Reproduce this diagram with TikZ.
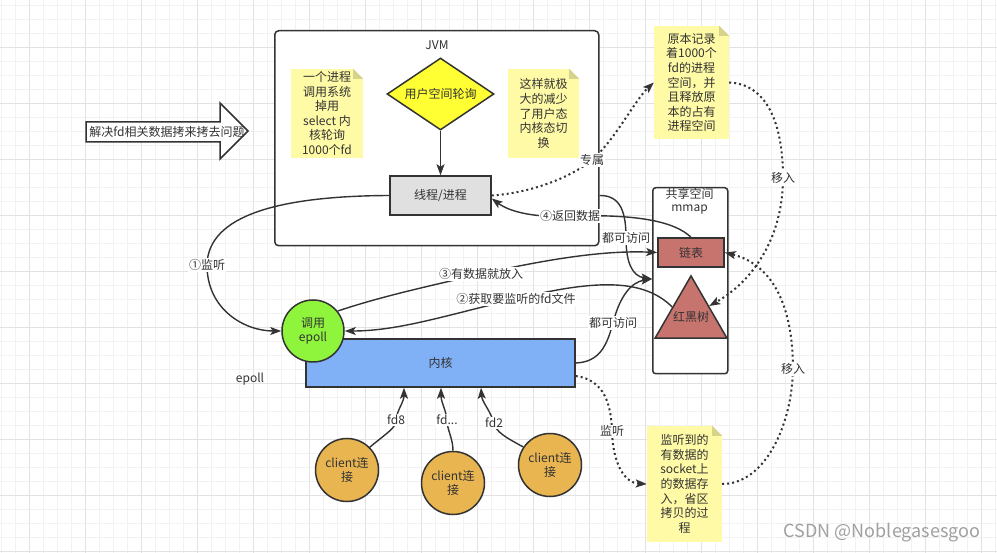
\documentclass[tikz,border=0pt]{standalone}
\usepackage{fontspec}
\setmainfont{Noto Sans CJK SC}
\usetikzlibrary{shapes.geometric,arrows.meta}
\definecolor{edge}{RGB}{51,51,51}
\definecolor{txt}{RGB}{51,51,51}
\definecolor{gridminor}{RGB}{242,242,242}
\definecolor{gridmajor}{RGB}{226,226,226}
\definecolor{notebg}{RGB}{255,250,165}
\definecolor{notefold}{RGB}{214,211,138}
\definecolor{dyellow}{RGB}{255,255,51}
\definecolor{thgray}{RGB}{224,224,224}
\definecolor{dred}{RGB}{200,116,110}
\definecolor{dgreen}{RGB}{143,245,60}
\definecolor{dblue}{RGB}{128,176,245}
\definecolor{dorange}{RGB}{233,181,80}
\definecolor{wm}{RGB}{160,160,160}
\begin{document}
\begin{tikzpicture}[x=1pt,y=-1pt,
  every node/.style={text=txt},
  font=\fontsize{12}{14.6}\selectfont,
  box/.style={draw=edge, line width=1.5pt},
  conn/.style={draw=edge, line width=1.4pt, -{Stealth[length=11pt,width=8pt,inset=2.5pt]}},
  dotconn/.style={draw=edge, line width=2pt, dash pattern=on 2pt off 3pt, -{Stealth[length=11pt,width=8pt,inset=2.5pt]}},
  lbl/.style={fill=white, inner sep=1pt},
  note/.style={fill=notebg, align=center, inner sep=0pt},
  client/.style={circle, draw=edge, line width=1.5pt, fill=dorange, minimum size=63pt, inner sep=0pt, align=center}]
\useasboundingbox (0,0) rectangle (997,553);
\fill[white] (0,0) rectangle (997,553);
% grid
\foreach \x in {1,15,...,997} \draw[gridminor, line width=0.8pt] (\x,0) -- (\x,553);
\foreach \y in {5,19,...,553} \draw[gridminor, line width=0.8pt] (0,\y) -- (997,\y);
\foreach \x in {29,85,...,997} \draw[gridmajor, line width=0.8pt] (\x,0) -- (\x,553);
\foreach \y in {47,103,...,553} \draw[gridmajor, line width=0.8pt] (0,\y) -- (997,\y);

% big arrow
\draw[box, fill=white] (86,122) -- (220,122) -- (220,103) -- (248,131) -- (220,159) -- (220,142) -- (86,142) -- cycle;
\node (solve) at (167,132) {解决fd相关数据拷来拷去问题};

% JVM
\node[box, rounded corners=4pt, fill=white, minimum width=324pt, minimum height=215pt, anchor=north west] (jvm) at (274,30) {};
\node (jvmlbl) at (437,45) {JVM};
\node[note, minimum width=72pt, minimum height=89pt] (n1) at (327,113.5) {一个进程\\调用系统\\掉用\\select 内\\核轮询\\1000个fd};
\node[note, minimum width=71pt, minimum height=89pt] (n2) at (543.5,113.5) {这样就极\\大的减少\\了用户态\\内核态切\\换};
\node[diamond, draw=edge, line width=1.5pt, fill=dyellow, inner sep=0pt, aspect=1.5, minimum width=107pt, minimum height=72pt] (poll) at (440.5,94) {用户空间轮询};
\node[box, fill=thgray, minimum width=101pt, minimum height=39pt] (thread) at (440.5,195.5) {线程/进程};
\draw[conn] (poll.south) -- (thread.north);

% notes right
\node[note, minimum width=75pt, minimum height=113pt] (n3) at (691.5,82.5) {原本记录\\着1000个\\fd的进程\\空间，并\\且释放原\\本的占有\\进程空间};
\node[note, minimum width=75pt, minimum height=116pt] (n4) at (684.5,484) {监听到的\\有数据的\\socket上\\的数据存\\入，省区\\拷贝的过\\程};
\foreach \n in {n1,n2,n3,n4} {
  \fill[white] ([xshift=-10pt]\n.north east) -- (\n.north east) -- ([yshift=-10pt]\n.north east) -- cycle;
  \fill[notefold] ([xshift=-10pt]\n.north east) -- ([xshift=-10pt,yshift=-10pt]\n.north east) -- ([yshift=-10pt]\n.north east) -- cycle;
}

% shared space
\node[box, rounded corners=3pt, fill=white, minimum width=75pt, minimum height=186pt, anchor=north west] (shared) at (652,187) {};
\node (sharedlbl) at (689.5,194) {共享空间};
\node (mmap) at (689.5,210) {mmap};
\node[box, fill=dred, minimum width=66pt, minimum height=29pt] (list) at (691,252.5) {链表};
\node[regular polygon, regular polygon sides=3, draw=edge, line width=1.5pt, fill=dred, minimum size=83pt, inner sep=0pt] (rbt) at (691,317.4) {};
\node (rbtlbl) at (691,316.5) {红黑树};

% kernel & epoll
\node[box, fill=dblue, minimum width=269pt, minimum height=48pt] (kernel) at (440.5,363) {内核};
\node[circle, draw=edge, line width=1.5pt, fill=dgreen, minimum size=62pt, inner sep=0pt, align=center] (epoll) at (313,331) {调用\\epoll};
\node (epolllbl) at (250,379) {epoll};

% clients
\node[client] (c1) at (347,470) {client连\\接};
\node[client] (c2) at (453,483) {client连\\接};
\node[client] (c3) at (550,465) {client连\\接};

\draw[conn] (c1.45) .. controls (388,432) and (396,428) .. (396,420) node[lbl]{fd8} .. controls (397,410) and (404,402) .. (404,0 |- kernel.south);
\draw[conn] (c2.north) .. controls (453,438) and (447,430) .. (447,420) node[lbl]{fd...} .. controls (446,410) and (441,402) .. (441,0 |- kernel.south);
\draw[conn] (c3.146) .. controls (505,437) and (496,432) .. (494,423) node[lbl]{fd2} .. controls (490,410) and (482,402) .. (481,0 |- kernel.south);

% connectors
\draw[conn] (thread.west) .. controls (280,196) and (208,215) .. (207,265) node[lbl]{①监听} .. controls (207,310) and (245,331) .. (epoll.west);
\draw[conn] (epoll.39) .. controls (380,297) and (420,288) .. (481,274) node[lbl]{③有数据就放入} .. controls (540,261) and (600,250) .. (list.west);
\draw[conn] (rbt.151) .. controls (645,280) and (600,278) .. (516,299) node[lbl]{②获取要监听的fd文件} .. controls (450,314) and (400,331) .. (epoll.east);
\draw[conn] (list.north) .. controls (675,222) and (640,214) .. (570,216) node[lbl]{④返回数据} .. controls (535,218) and (510,212) .. ([yshift=-3pt]thread.east);
\draw[conn] (jvm.east |- thread.east) .. controls (622,195) and (626,215) .. (626,238) node[lbl]{都可访问} .. controls (626,262) and (632,276) .. (shared.west |- 0,279);
\draw[conn] (kernel.east) .. controls (600,362) and (607,345) .. (613,323) node[lbl]{都可访问} .. controls (620,295) and (632,282) .. (shared.west |- 0,279);

% dotted connectors
\draw[dotconn] (thread.east) .. controls (530,193) and (570,178) .. (592,160) node[lbl]{专属} .. controls (615,140) and (635,100) .. (n3.west);
\draw[dotconn] ([yshift=-13pt]kernel.east) .. controls (605,380) and (611,405) .. (612,431) node[lbl]{监听} .. controls (613,465) and (625,483) .. (n4.west);
\draw[dotconn] (n4.east) .. controls (765,484) and (792,425) .. (793,369) node[lbl]{移入} .. controls (793,310) and (775,265) .. (list.east);
\draw[dotconn] (n3.east) .. controls (765,84) and (783,120) .. (783,178) node[lbl]{移入} .. controls (783,235) and (755,280) .. (rbt.32);

% watermark
\node[text=wm, font=\fontsize{18}{20}\selectfont] (wmark) at (882,533) {CSDN @Noblegasesgoo};
\end{tikzpicture}
\end{document}
